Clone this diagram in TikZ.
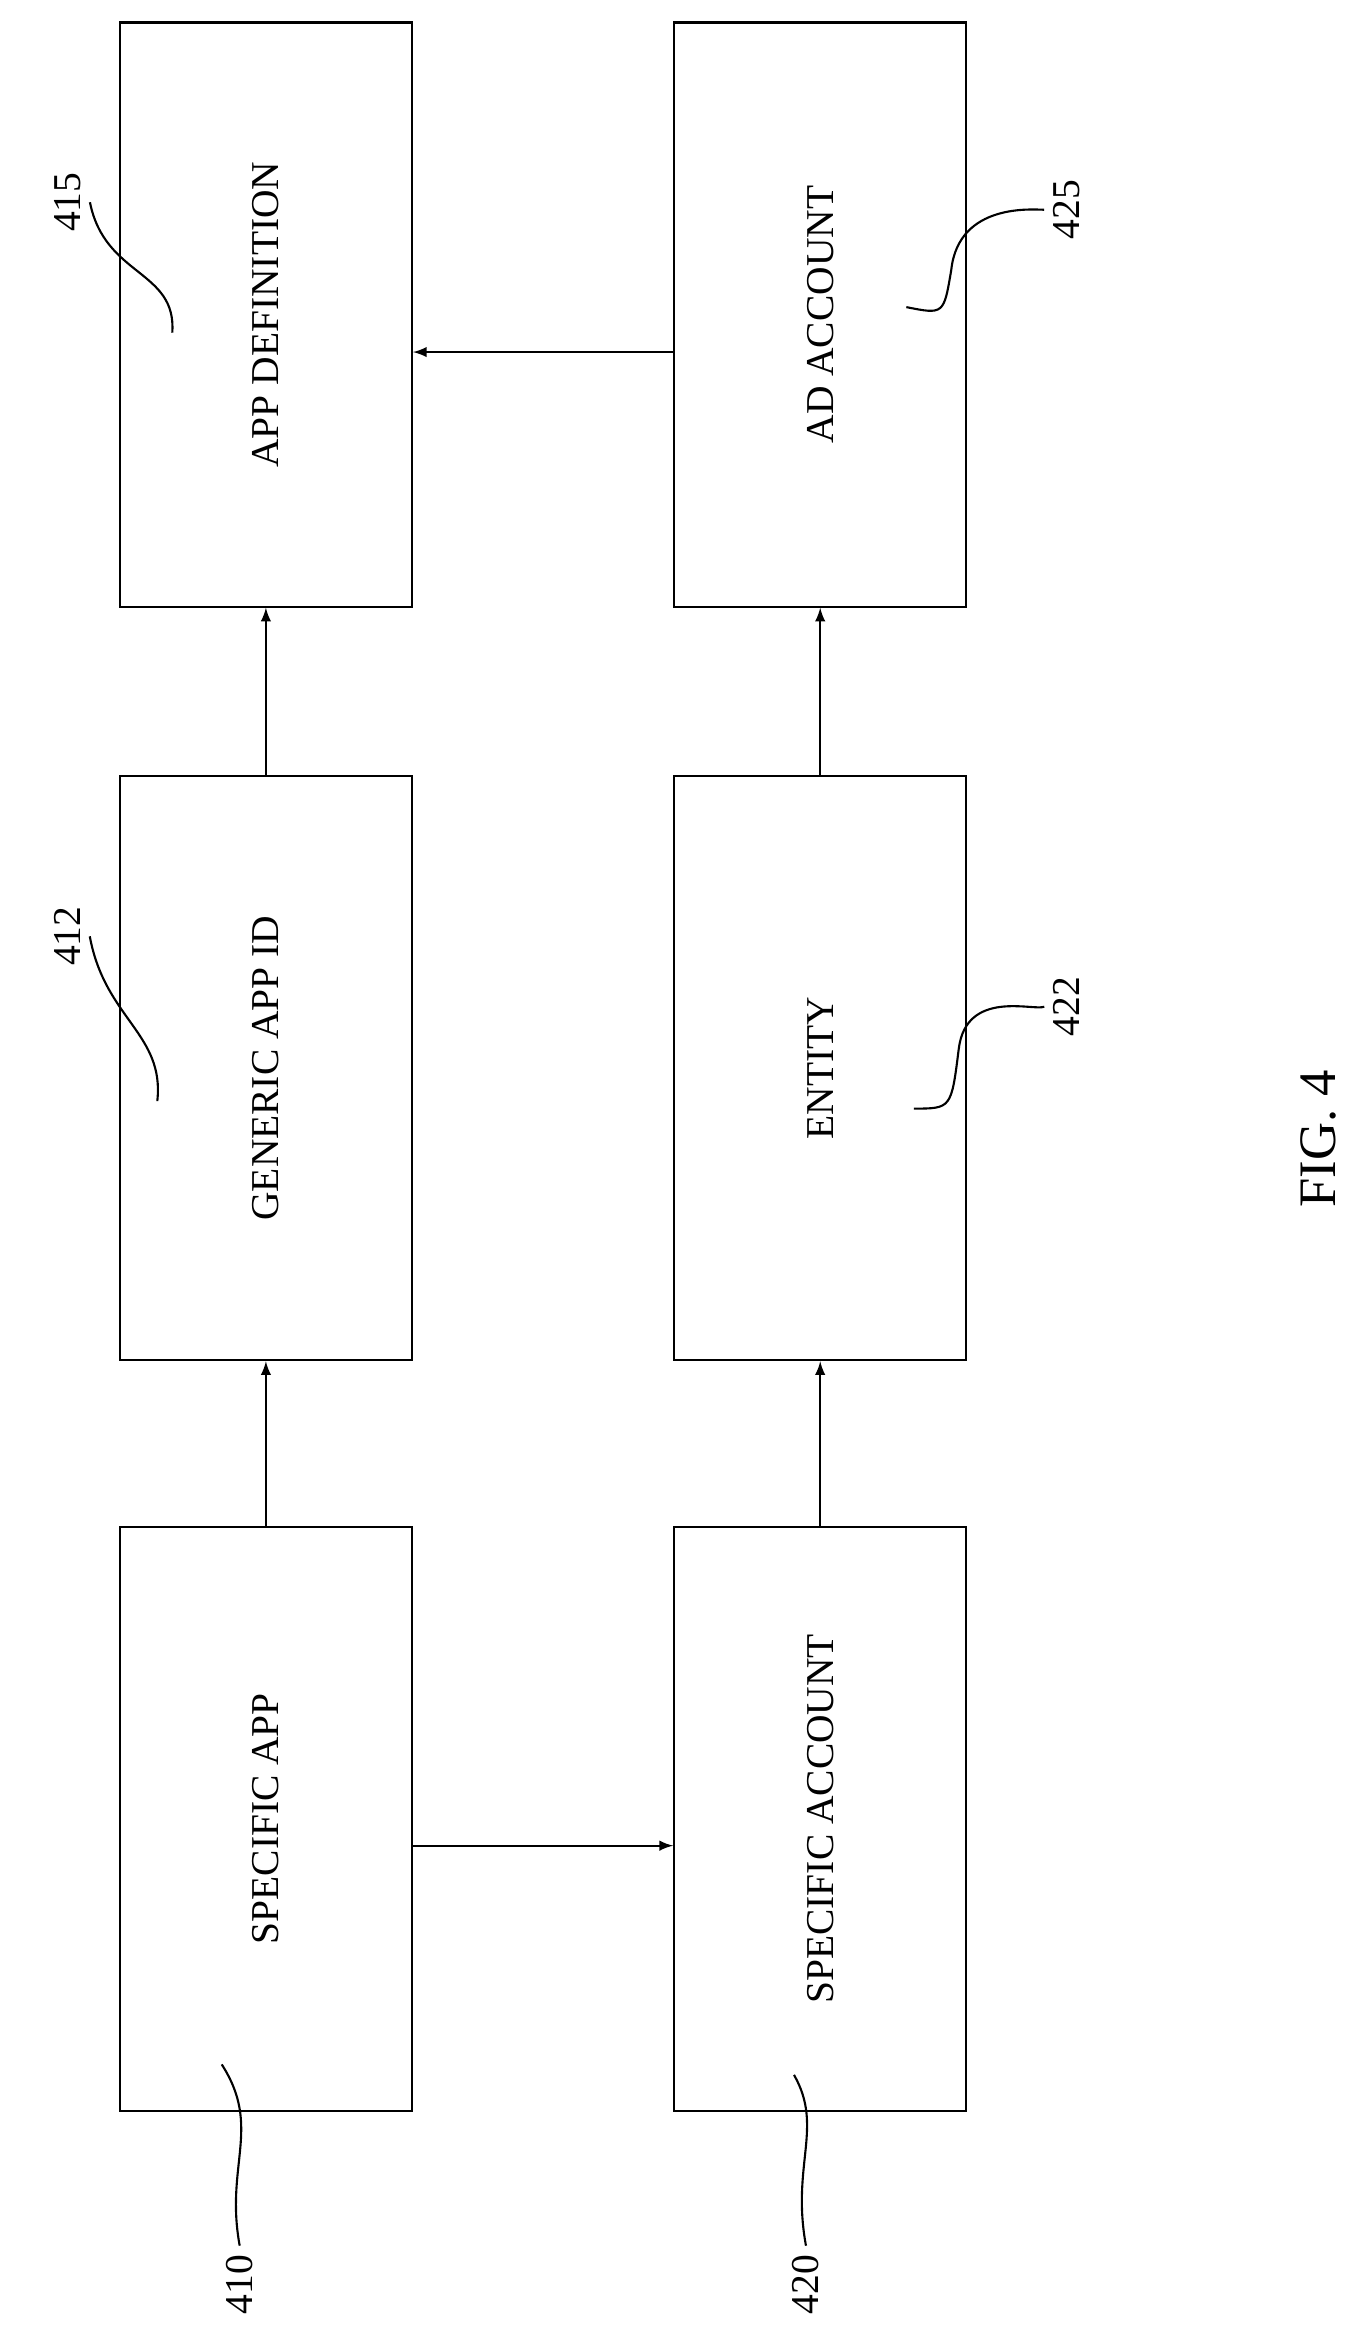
\documentclass[tikz,border=0pt]{standalone}
\usepackage{fontspec}
\setmainfont{Liberation Serif}
\begin{document}
\begin{tikzpicture}[x=0.02cm,y=-0.02cm,
  box/.style={draw, thick, minimum width=3.9cm, minimum height=7.8cm, inner sep=0pt},
  txt/.style={rotate=90, font=\fontsize{15}{18}\selectfont},
  num/.style={rotate=90, font=\fontsize{15}{18}\selectfont}]
\useasboundingbox (0,0) rectangle (910,1568);
\node[box] (415) at (177.5,210) {};
\node[box] (412) at (177.5,713) {};
\node[box] (410) at (177.5,1214) {};
\node[box] (425) at (547.5,210) {};
\node[box] (422) at (547.5,713) {};
\node[box] (420) at (547.5,1214) {};
\node[txt] at (415) {APP DEFINITION};
\node[txt] at (412) {GENERIC APP ID};
\node[txt] at (410) {SPECIFIC APP};
\node[txt] at (425) {AD ACCOUNT};
\node[txt] at (422) {ENTITY};
\node[txt] at (420) {SPECIFIC ACCOUNT};
\node[font=\fontsize{20}{24}\selectfont, rotate=90] (fig) at (880,760) {FIG. 4};
% reference numerals
\node[num] (n415) at (45,135) {415};
\node[num] (n412) at (45,625) {412};
\node[num] (n410) at (160,1525) {410};
\node[num] (n425) at (712,140) {425};
\node[num] (n422) at (712,672) {422};
\node[num] (n420) at (538,1525) {420};
\draw[thick] (n415.south) .. controls (70,185) and (118,180) .. (115,222);
\draw[thick] (n412.south) .. controls (70,680) and (110,690) .. (105,735);
\draw[thick] (n410.east) .. controls (150,1445) and (175,1420) .. (148,1378);
\draw[thick] (n425.north) .. controls (690,140) and (640,135) .. (635,180) .. controls (630,210) .. (605,205);
\draw[thick] (n422.north) .. controls (690,675) and (645,660) .. (640,700) .. controls (635,740) .. (610,740);
\draw[thick] (n420.east) .. controls (528,1445) and (550,1420) .. (530,1385);
% connectors
\path[draw,thick,-latex] (410) -- (412);
\path[draw,thick,-latex] (412) -- (415);
\path[draw,thick,-latex] (420) -- (422);
\path[draw,thick,-latex] (422) -- (425);
\path[draw,thick,-latex] (425.west |- 0,235) -- (415.east |- 0,235);
\path[draw,thick,-latex] (410.east |- 0,1232) -- (420.west |- 0,1232);
\end{tikzpicture}
\end{document}
